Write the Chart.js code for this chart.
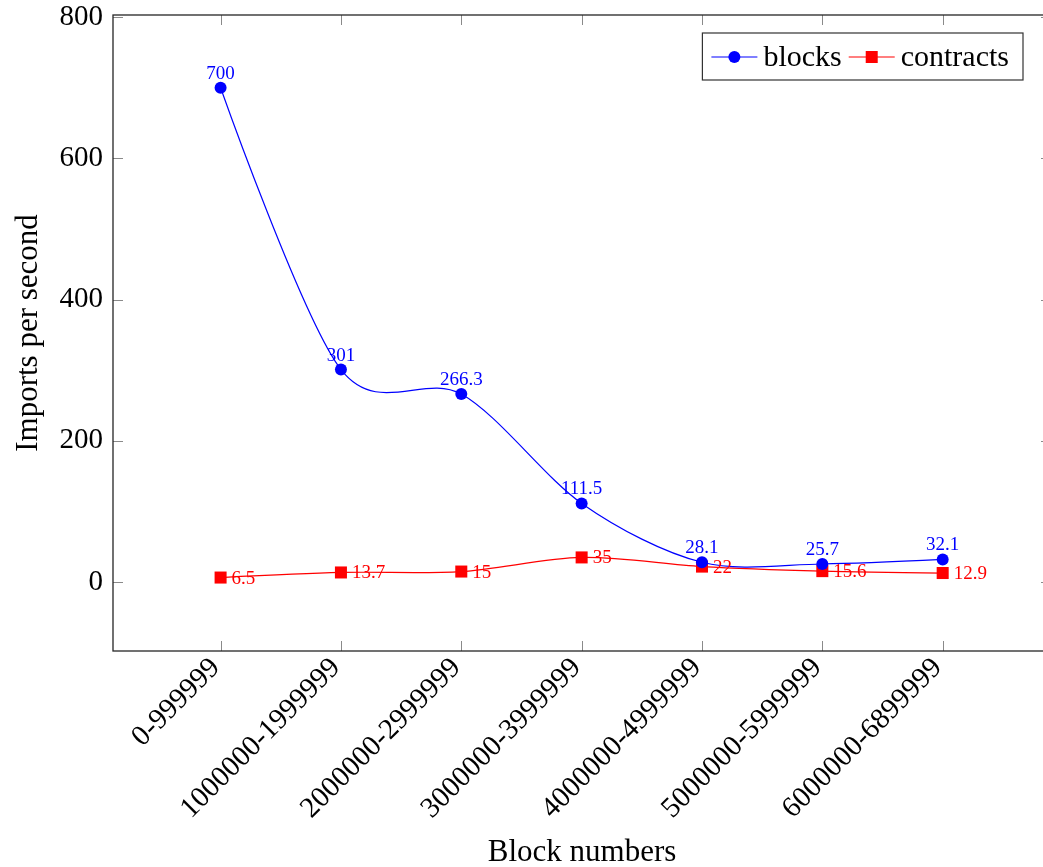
<!DOCTYPE html>
<html>
<head>
<meta charset="utf-8">
<title>Imports per second by block range</title>
<script src="https://cdn.jsdelivr.net/npm/chart.js@4.4.1/dist/chart.umd.min.js"></script>
<style>
  html, body { margin: 0; padding: 0; background: #fff; overflow: hidden; }
  #wrap { width: 1060px; height: 867px; }
</style>
</head>
<body>
<div id="wrap"><canvas id="c" width="1060" height="867"></canvas></div>
<script>
// Block ranges on the x axis
const categories = [
  '0-999999', '1000000-1999999', '2000000-2999999', '3000000-3999999',
  '4000000-4999999', '5000000-5999999', '6000000-6899999'
];
// Imports per second for each range
const blocks = [700, 301, 266.3, 111.5, 28.1, 25.7, 32.1];
const contracts = [6.5, 13.7, 15, 35, 22, 15.6, 12.9];
const seriesNames = ['blocks', 'contracts'];
const yTicks = [0, 200, 400, 600, 800];

const SERIF = '"Liberation Serif", "DejaVu Serif", serif';
const BLUE = '#0000ff';
const RED = '#ff0000';
// Cardinal-spline factor: each control point sits this fraction of the
// neighbour-to-neighbour chord away from its point
const SMOOTH = 0.155;

const toPoints = values => values.map((v, i) => ({ x: i, y: v }));

// Smooth curves whose tangents follow the chord between neighbours
const smoothPlugin = {
  id: 'smoothCurve',
  beforeDatasetsDraw(chart) {
    chart.data.datasets.forEach((ds, di) => {
      const meta = chart.getDatasetMeta(di);
      const pts = meta.data;
      const n = pts.length;
      pts.forEach((p, i) => {
        const prev = pts[Math.max(i - 1, 0)];
        const next = pts[Math.min(i + 1, n - 1)];
        const k = (i === 0 || i === n - 1) ? 0 : SMOOTH;
        const dx = next.x - prev.x, dy = next.y - prev.y;
        p.cp1x = p.x - k * dx; p.cp1y = p.y - k * dy;
        p.cp2x = p.x + k * dx; p.cp2y = p.y + k * dy;
      });
      if (meta.dataset) {
        meta.dataset._pointsUpdated = true;
        meta.dataset._path = undefined;
      }
    });
  }
};

// Axis frame with inward ticks on all four sides
const framePlugin = {
  id: 'frame',
  afterDraw(chart) {
    const { ctx, chartArea: a, scales } = chart;
    const tick = 10;
    ctx.save();
    ctx.strokeStyle = '#8a8a8a';
    ctx.lineWidth = 1;
    ctx.beginPath();
    yTicks.forEach(v => {
      const y = Math.round(scales.y.getPixelForValue(v)) + 0.5;
      ctx.moveTo(a.left, y); ctx.lineTo(a.left + tick, y);
      ctx.moveTo(a.right, y); ctx.lineTo(a.right - tick, y);
    });
    categories.forEach((_, i) => {
      const x = Math.round(scales.x.getPixelForValue(i)) + 0.5;
      ctx.moveTo(x, a.bottom); ctx.lineTo(x, a.bottom - tick);
      ctx.moveTo(x, a.top); ctx.lineTo(x, a.top + tick);
    });
    ctx.stroke();
    ctx.strokeStyle = '#262626';
    ctx.lineWidth = 1.3;
    ctx.strokeRect(a.left, a.top, a.right - a.left, a.bottom - a.top);
    ctx.restore();
  }
};

// Value labels next to each point
const valueLabelPlugin = {
  id: 'valueLabels',
  afterDatasetsDraw(chart) {
    const { ctx } = chart;
    ctx.save();
    ctx.font = '19px ' + SERIF;
    chart.data.datasets.forEach((ds, di) => {
      const meta = chart.getDatasetMeta(di);
      meta.data.forEach((pt, i) => {
        const text = String(ds.data[i].y);
        ctx.fillStyle = ds.borderColor;
        if (di === 0) {
          ctx.textAlign = 'center';
          ctx.textBaseline = 'alphabetic';
          ctx.fillText(text, pt.x, pt.y - 9);
        } else {
          ctx.textAlign = 'left';
          ctx.textBaseline = 'middle';
          ctx.fillText(text, pt.x + 11, pt.y + 1);
        }
      });
    });
    ctx.restore();
  }
};

// Boxed legend in the upper right corner
const legendPlugin = {
  id: 'boxLegend',
  afterDraw(chart) {
    const { ctx, chartArea: a } = chart;
    const datasets = chart.data.datasets;
    ctx.save();
    ctx.font = '30px ' + SERIF;
    const lineLen = 46, gapAfterLine = 6, gapBetween = 7, padL = 9, padR = 14;
    let width = padL + padR;
    datasets.forEach((ds, i) => {
      width += lineLen + gapAfterLine + ctx.measureText(ds.label).width;
      if (i < datasets.length - 1) width += gapBetween;
    });
    const height = 47;
    const right = a.right - 28;
    const left = right - width;
    const top = a.top + 18;
    ctx.fillStyle = '#fff';
    ctx.fillRect(left, top, width, height);
    ctx.strokeStyle = '#333';
    ctx.lineWidth = 1.2;
    ctx.strokeRect(left, top, width, height);
    const cy = top + 24;
    let x = left + padL;
    datasets.forEach(ds => {
      ctx.strokeStyle = ds.borderColor;
      ctx.lineWidth = 1.2;
      ctx.beginPath();
      ctx.moveTo(x, cy); ctx.lineTo(x + lineLen, cy);
      ctx.stroke();
      ctx.fillStyle = ds.borderColor;
      const mx = x + lineLen / 2;
      if (ds.pointStyle === 'rect') {
        ctx.fillRect(mx - 6, cy - 6, 12, 12);
      } else {
        ctx.beginPath();
        ctx.arc(mx, cy, 6, 0, Math.PI * 2);
        ctx.fill();
      }
      x += lineLen + gapAfterLine;
      ctx.fillStyle = '#000';
      ctx.textAlign = 'left';
      ctx.textBaseline = 'middle';
      ctx.fillText(ds.label, x, cy + 1);
      x += ctx.measureText(ds.label).width + gapBetween;
    });
    ctx.restore();
  }
};

new Chart(document.getElementById('c'), {
  type: 'line',
  data: {
    datasets: [
      {
        label: seriesNames[0],
        data: toPoints(blocks),
        borderColor: BLUE,
        backgroundColor: BLUE,
        borderWidth: 1.2,
        tension: 0.3,
        pointStyle: 'circle',
        pointRadius: 6,
        pointBorderWidth: 0
      },
      {
        label: seriesNames[1],
        data: toPoints(contracts),
        borderColor: RED,
        backgroundColor: RED,
        borderWidth: 1.2,
        tension: 0.3,
        pointStyle: 'rect',
        pointRadius: 8.5,
        pointBorderWidth: 0
      }
    ]
  },
  options: {
    responsive: false,
    animation: false,
    devicePixelRatio: 1,
    layout: { padding: { top: 15, right: 9, bottom: 0, left: 0 } },
    plugins: {
      legend: { display: false },
      tooltip: { enabled: false }
    },
    scales: {
      x: {
        type: 'linear',
        min: -0.894,
        max: 6.9,
        afterBuildTicks: s => { s.ticks = categories.map((_, i) => ({ value: i })); },
        afterFit: s => { s.height = 216; s.paddingLeft = 0; s.paddingRight = 0; },
        grid: { display: false, drawTicks: false },
        border: { display: false },
        ticks: {
          autoSkip: false,
          maxRotation: 45,
          minRotation: 45,
          padding: 0,
          labelOffset: -5,
          color: '#000',
          font: { family: SERIF, size: 29 },
          callback: v => categories[v]
        },
        title: {
          display: true,
          text: 'Block numbers',
          color: '#000',
          font: { family: SERIF, size: 31 },
          padding: { top: 0, bottom: -4 }
        }
      },
      y: {
        min: -97.5,
        max: 803,
        afterBuildTicks: s => { s.ticks = yTicks.map(v => ({ value: v })); },
        afterFit: s => { s.width = 113; s.paddingTop = 0; s.paddingBottom = 0; },
        grid: { display: false, drawTicks: false },
        border: { display: false },
        ticks: {
          padding: 10,
          color: '#000',
          font: { family: SERIF, size: 29 }
        },
        title: {
          display: true,
          text: 'Imports per second',
          color: '#000',
          font: { family: SERIF, size: 31 },
          padding: { top: 10, bottom: 0 }
        }
      }
    }
  },
  plugins: [smoothPlugin, framePlugin, valueLabelPlugin, legendPlugin]
});
</script>
</body>
</html>
